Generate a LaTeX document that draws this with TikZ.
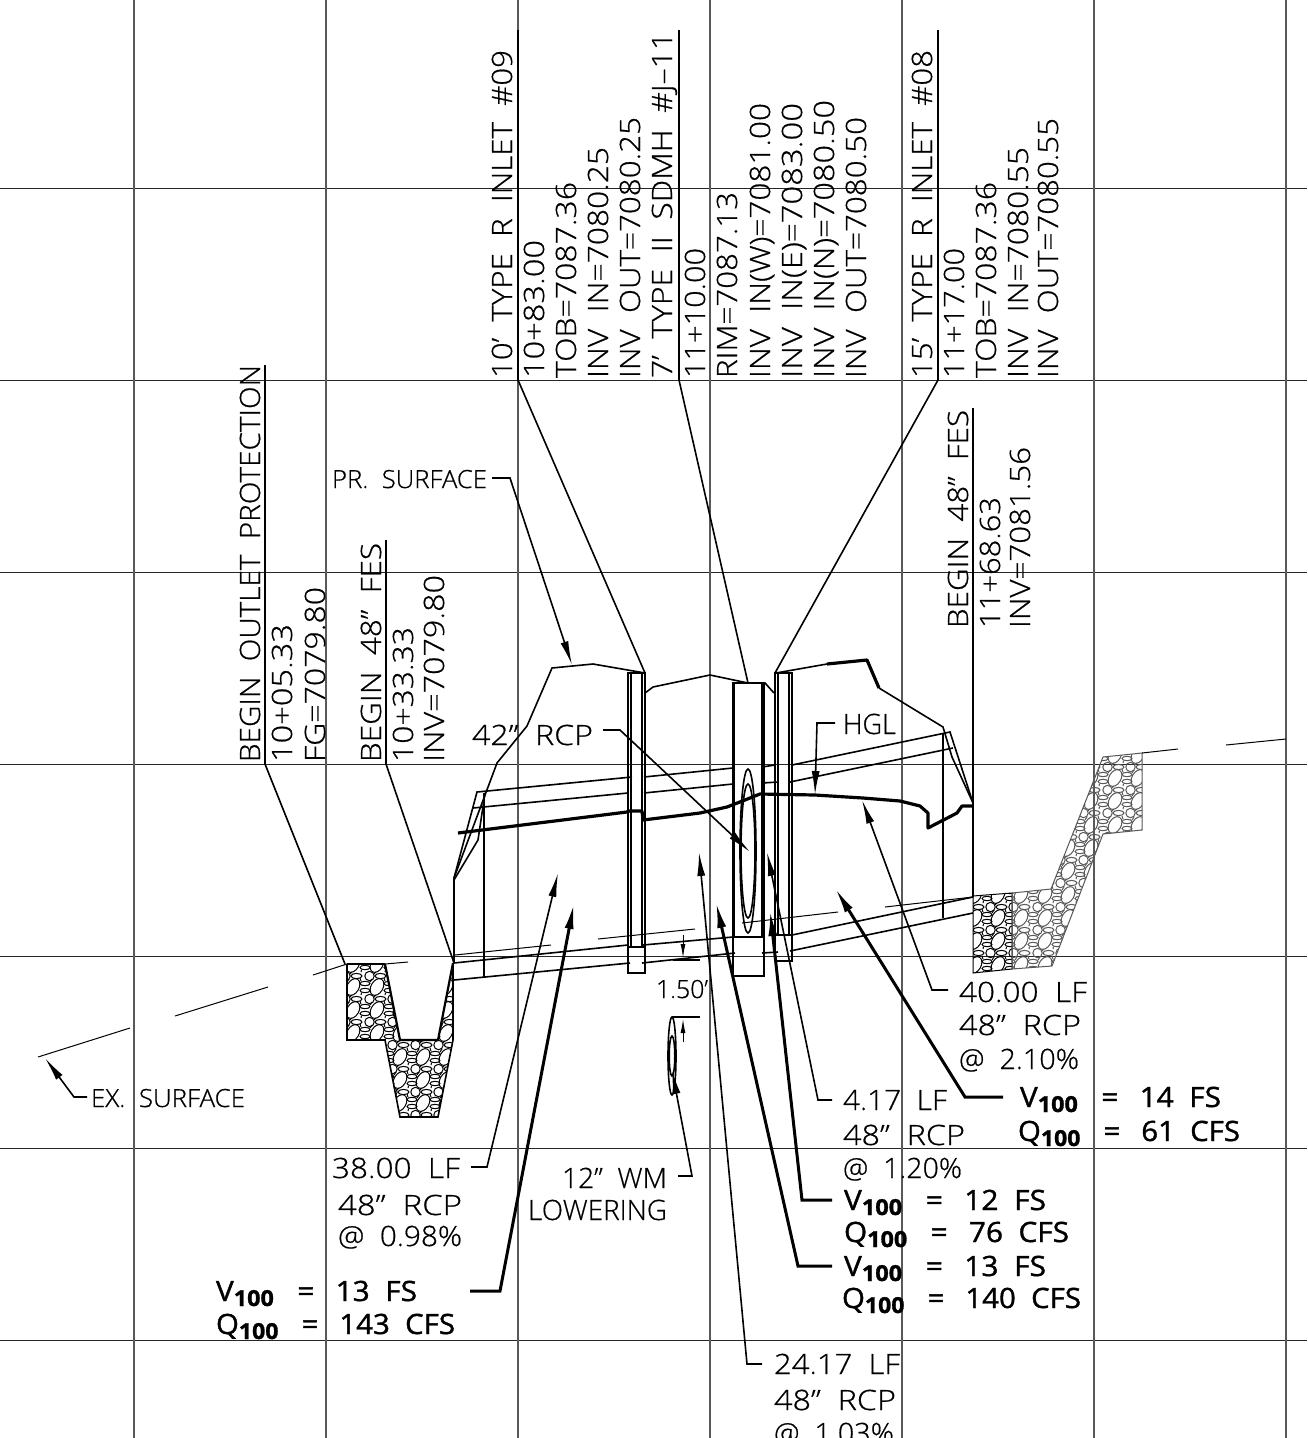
\documentclass[tikz,border=0pt]{standalone}
\usepackage{graphicx}
\usepackage{fontspec}
\setmainfont[WordSpace=2,FakeBold=0.6]{Open Sans Light}
\newfontfamily\thk[WordSpace=2,FakeBold=1.2]{Open Sans}
\usetikzlibrary{arrows.meta}
\newcommand{\fw}[2]{\resizebox{#1pt}{\height}{#2}}
\newcommand{\vsub}[1]{#1\raisebox{-5pt}{\fontsize{22}{22}\selectfont\bfseries 100}}
\tikzset{
 lbl/.style={inner sep=0pt,outer sep=0pt,anchor=base west,font=\fontsize{28}{28}\selectfont},
 lbs/.style={lbl,font=\fontsize{25}{25}\selectfont},
 lbk/.style={lbl,font=\thk\fontsize{28}{28}\selectfont},
 vt/.style={lbl,rotate=90},
 gridh/.style={line width=1pt,color=black!85},
 gridv/.style={line width=1.2pt,color=black!65},
 ln/.style={line width=1.6pt,color=black},
 thinln/.style={line width=1pt,color=black},
 hv/.style={line width=3.2pt,color=black,line join=round},
 lead/.style={line width=1.6pt,-{Latex[length=24pt,width=8pt]}},
 leadk/.style={line width=3pt,-{Latex[length=26pt,width=9pt]}},
 rock/.style={line width=1pt},
}
\newcommand{\rockcell}[2]{%
 \begin{scope}[shift={#1}]
 \draw[rock,#2,rotate=-30] (0,0) ellipse [x radius=6,y radius=9];
 \draw[rock,#2] (-7.5,12) circle [radius=4.7];
 \draw[rock,#2] (12,-3.5) ellipse [x radius=5,y radius=2.2];
 \draw[rock,#2] (12,3.5) ellipse [x radius=5,y radius=2.2];
 \draw[rock,#2] (3.5,12) ellipse [x radius=5.5,y radius=2.6];
 \draw[rock,#2] (-3,10) -- (-1,8) (8,8) -- (8.5,6) (7,-9) -- (8,-6) (17,-5) -- (19,-8);
 \end{scope}}
\newcommand{\rockfill}[3]{%
 \foreach \tx in {#1} \foreach \ty in {#2} {\rockcell{(\tx,\ty)}{#3}}}
\begin{document}
\begin{tikzpicture}[x=1pt,y=-1pt]
\useasboundingbox (0,0) rectangle (1307,1438);
\fill[white] (0,0) rectangle (1307,1438);
% grid
\foreach \y in {188,380,572,764,956,1148,1340} \draw[gridh] (0,\y) -- (1307,\y);
\foreach \x in {134,326,518,710,902,1094,1286} \draw[gridv] (\x,0) -- (\x,1438);
% vertical label blocks
\node[vt] (a1) at (512,378) {\fw{328}{10' TYPE R INLET \#09}};
\node[vt] (a2) at (544,378) {\fw{138}{10+83.00}};
\node[vt] (a3) at (576,378) {\fw{196}{TOB=7087.36}};
\node[vt] (a4) at (608,378) {\fw{231}{INV IN=7080.25}};
\node[vt] (a5) at (640,378) {\fw{261}{INV OUT=7080.25}};
\node[vt] (b1) at (672,378) {\fw{346}{7' TYPE II SDMH \#J–11}};
\node[vt] (b2) at (705,378) {\fw{130}{11+10.00}};
\node[vt] (b3) at (737,378) {\fw{186}{RIM=7087.13}};
\node[vt] (b4) at (770,378) {\fw{275}{INV IN(W)=7081.00}};
\node[vt] (b5) at (802,378) {\fw{275}{INV IN(E)=7083.00}};
\node[vt] (b6) at (834,378) {\fw{278}{INV IN(N)=7080.50}};
\node[vt] (b7) at (866,378) {\fw{261}{INV OUT=7080.50}};
\node[vt] (c1) at (932,378) {\fw{328}{15' TYPE R INLET \#08}};
\node[vt] (c2) at (964,378) {\fw{130}{11+17.00}};
\node[vt] (c3) at (996,378) {\fw{196}{TOB=7087.36}};
\node[vt] (c4) at (1028,378) {\fw{231}{INV IN=7080.55}};
\node[vt] (c5) at (1058,378) {\fw{260}{INV OUT=7080.55}};
\node[vt] (d1) at (968,628) {\fw{218}{BEGIN 48" FES}};
\node[vt] (d2) at (1000,628) {\fw{131}{11+68.63}};
\node[vt] (d3) at (1030,628) {\fw{181}{INV=7081.56}};
\node[vt] (e1) at (260,762) {\fw{397}{BEGIN OUTLET PROTECTION}};
\node[vt] (e2) at (292,762) {\fw{138}{10+05.33}};
\node[vt] (e3) at (325,762) {\fw{175}{FG=7079.80}};
\node[vt] (f1) at (381,762) {\fw{219}{BEGIN 48" FES}};
\node[vt] (f2) at (413,762) {\fw{135}{10+33.33}};
\node[vt] (f3) at (444,762) {\fw{187}{INV=7079.80}};
% horizontal labels
\node[lbs] (prs) at (332,488) {\fw{155}{PR. SURFACE}};
\node[lbl] (rcp42) at (472,745) {\fw{121}{42" RCP}};
\node[lbl] (hgl) at (843,734) {\fw{53}{HGL}};
\node[lbs] (exs) at (91,1107) {\fw{154}{EX. SURFACE}};
\node[lbl] (l1a) at (959,1002) {\fw{128}{40.00 LF}};
\node[lbl] (l1b) at (959,1035) {\fw{122}{48" RCP}};
\node[lbl] (l1c) at (959,1069) {\fw{120}{@ 2.10\%}};
\node[lbk] (v1a) at (1020,1107) {\fw{201}{\vsub{V}\hspace{22pt}=\hspace{20pt}14 FS}};
\node[lbk] (v1b) at (1018,1141) {\fw{222}{\vsub{Q}\hspace{22pt}=\hspace{20pt}61 CFS}};
\node[lbl] (l2a) at (843,1110) {\fw{104}{4.17 LF}};
\node[lbl] (l2b) at (843,1145) {\fw{122}{48" RCP}};
\node[lbl] (l2c) at (843,1178) {\fw{119}{@ 1.20\%}};
\node[lbk] (v2a) at (844,1210) {\fw{202}{\vsub{V}\hspace{22pt}=\hspace{20pt}12 FS}};
\node[lbk] (v2b) at (844,1242) {\fw{225}{\vsub{Q}\hspace{22pt}=\hspace{20pt}76 CFS}};
\node[lbk] (v3a) at (844,1276) {\fw{202}{\vsub{V}\hspace{22pt}=\hspace{20pt}13 FS}};
\node[lbk] (v3b) at (842,1308) {\fw{239}{\vsub{Q}\hspace{22pt}=\hspace{20pt}140 CFS}};
\node[lbl] (l3a) at (774,1374) {\fw{126}{24.17 LF}};
\node[lbl] (l3b) at (774,1410) {\fw{122}{48" RCP}};
\node[lbl] (l3c) at (774,1443) {\fw{120}{@ 1.03\%}};
\node[lbl] (l4a) at (332,1178) {\fw{128}{38.00 LF}};
\node[lbl] (l4b) at (338,1215) {\fw{124}{48" RCP}};
\node[lbl] (l4c) at (338,1246) {\fw{124}{@ 0.98\%}};
\node[lbk] (v4a) at (216,1301) {\fw{201}{\vsub{V}\hspace{22pt}=\hspace{20pt}13 FS}};
\node[lbk] (v4b) at (216,1334) {\fw{239}{\vsub{Q}\hspace{22pt}=\hspace{20pt}143 CFS}};
\node[lbl] (wm1) at (562,1188) {\fw{105}{12" WM}};
\node[lbl] (wm2) at (528,1220) {\fw{139}{LOWERING}};
\node[lbs] (dim) at (656,998) {\fw{52}{1.50'}};
% vertical leader lines with slanted legs
\coordinate (pa0) at (518,30); \coordinate (pa1) at (518,380); \coordinate (pa2) at (645,673);
\coordinate (pb0) at (679,30); \coordinate (pb1) at (679,380); \coordinate (pb2) at (748,683);
\coordinate (pc0) at (938,30); \coordinate (pc1) at (938,380); \coordinate (pc2) at (775,673);
\coordinate (pe0) at (265,365); \coordinate (pe1) at (265,764); \coordinate (pe2) at (345,964);
\coordinate (pf0) at (386,540); \coordinate (pf1) at (386,764); \coordinate (pf2) at (454,963);
\coordinate (pd0) at (973,408); \coordinate (pd1) at (973,803);
\draw[ln] (pa0) -- (pa1) -- (pa2);
\draw[ln] (pb0) -- (pb1) -- (pb2);
\draw[ln] (pc0) -- (pc1) -- (pc2);
\draw[ln] (pe0) -- (pe1) -- (pe2);
\draw[ln] (pf0) -- (pf1) -- (pf2);
\draw[ln] (pd0) -- (pd1);
% riprap outlet
\begin{scope}
 \clip (347,964) -- (385,964) -- (400,1040) -- (438,1040) -- (453,963) -- (453,1040) -- (438,1117) -- (400,1117) -- (385,1040) -- (347,1040) -- cycle;
 \rockfill{330,353,377,400,423,446,470}{964,987,1010,1033,1057,1080,1103,1126}{black}
\end{scope}
\draw[ln] (347,964) -- (347,1040) -- (385,1040) -- (400,1117) -- (438,1117) -- (453,1040) -- (453,963);
\draw[line width=2.2pt] (385,964) -- (400,1040) -- (438,1040) -- (453,963);
\draw[ln] (347,964) -- (385,964);
% riprap right, dark
\begin{scope}
 \clip (973,896) -- (1012,893) -- (1012,969) -- (973,973) -- cycle;
 \rockfill{952,975,998,1021}{871,895,918,941,965,988}{black}
\end{scope}
\draw[thinln] (973,896) -- (1012,893) -- (1012,969) -- (973,973) -- cycle;
% riprap right, grey
\begin{scope}
 \clip (1012,893) -- (1051,889) -- (1103,757) -- (1142,753) -- (1142,830) -- (1103,834) -- (1052,966) -- (1012,969) -- cycle;
 \rockfill{998,1021,1045,1068,1091,1115,1138,1161}{755,778,801,825,848,871,895,918,941,965,988}{black!65}
\end{scope}
\draw[thinln,color=black!65] (1012,893) -- (1051,889) -- (1103,757) -- (1142,753) -- (1142,830) -- (1103,834) -- (1052,966) -- (1012,969) -- cycle;
% existing ground
\draw[thinln] (38,1057) -- (130,1028);
\draw[thinln] (175,1016) -- (268,987);
\draw[thinln] (313,975) -- (347,964);
\draw[thinln] (385,964) -- (408,962);
\draw[thinln] (1142,753) -- (1178,749);
\draw[thinln] (1226,745) -- (1286,739);
\draw[thinln] (455,955) -- (551,945);
\draw[thinln] (598,939) -- (695,929);
\draw[thinln] (742,923) -- (838,912);
\draw[thinln] (885,907) -- (973,897);
% proposed surface
\draw[ln] (454,878) -- (497,763) -- (527,726) -- (552,668) -- (593,664) -- (645,673);
\draw[ln] (645,693) -- (653,687) -- (710,675) -- (748,683) -- (765,683) -- (774,693);
\draw[ln] (776,673) -- (827,664);
\draw[hv] (827,664) -- (867,660) -- (879,688);
\draw[ln] (879,688) -- (943,727) -- (952,757) -- (973,803);
% pipe run: left section
\draw[line width=2.2pt] (454,878) -- (454,963);
\draw[ln] (454,878) -- (477,792) -- (632,777);
\draw[ln] (473,808) -- (628,793);
\draw[ln] (454,880) -- (478,840) -- (485,793);
\draw[ln] (484,793) -- (484,977);
\draw[ln] (454,963) -- (628,945);
\draw[ln] (454,980) -- (630,963);
% middle section
\draw[ln] (644,777) -- (733,768);
\draw[ln] (644,793) -- (733,784);
\draw[ln] (643,945) -- (733,937);
\draw[ln] (642,963) -- (735,953);
% stubs
\draw[ln] (762,767) -- (775,765);
\draw[ln] (762,783) -- (778,782);
\draw[ln] (762,953) -- (778,952);
% right section
\draw[ln] (792,765) -- (950,732) -- (973,803);
\draw[ln] (790,782) -- (953,748);
\draw[ln] (943,733) -- (943,918);
\draw[ln] (792,935) -- (973,897);
\draw[ln] (790,951) -- (973,913);
\draw[line width=2.2pt] (973,803) -- (973,897);
% inlet 09
\draw[ln] (628,673) rectangle (645,973);
\draw[ln] (631,673) -- (631,947) (642,673) -- (642,947) (628,947) -- (645,947);
% manhole
\draw[ln] (733,683) rectangle (764,976);
\draw[line width=2.8pt] (734,683) -- (734,937);
\draw[ln] (762,683) -- (762,937) (733,937) -- (764,937);
% inlet 08
\draw[ln] (775,673) rectangle (792,961);
\draw[ln] (778,673) -- (778,935) (789,673) -- (789,935) (775,935) -- (792,935);
% pipe ellipses
\coordinate (pe) at (748,851);
\draw[ln] (pe) ellipse [x radius=8,y radius=82];
\draw[ln] (pe) ellipse [x radius=7,y radius=67];
% HGL
\draw[hv] (458,833) -- (627,812) -- (629,811) -- (642,811) -- (643,820) -- (700,813) -- (727,807) -- (745,800) -- (760,794) -- (815,795) -- (863,798) -- (900,801) -- (920,806) -- (928,813) -- (928,828) -- (957,813) -- (962,806) -- (973,806);
% dimension 1.50'
\coordinate (dt1) at (683,935); \coordinate (dt2) at (683,958);
\draw[thinln,-{Latex[length=14pt,width=5pt]}] (dt1) -- (dt2);
\draw[ln] (673,960) -- (700,960);
\coordinate (du1) at (683,1042); \coordinate (du2) at (683,1019);
\draw[thinln,-{Latex[length=14pt,width=5pt]}] (du1) -- (du2);
\draw[ln] (672,1017) -- (700,1017);
% water main
\coordinate (wm) at (672,1056);
\draw[ln] (wm) ellipse [x radius=4,y radius=39];
\draw[ln] (wm) ellipse [x radius=2.8,y radius=20];
% leaders
\coordinate (q1) at (492,478); \coordinate (q2) at (510,478); \coordinate (q3) at (572,665);
\draw[lead] (q1) -- (q2) -- (q3);
\coordinate (r1) at (603,730); \coordinate (r2) at (620,730); \coordinate (r3) at (750,852);
\draw[lead] (r1) -- (r2) -- (r3);
\coordinate (s1) at (835,723); \coordinate (s2) at (817,723); \coordinate (s3) at (815,795);
\draw[lead] (s1) -- (s2) -- (s3);
\coordinate (u1) at (87,1097); \coordinate (u2) at (74,1097); \coordinate (u3) at (45,1058);
\draw[lead] (u1) -- (u2) -- (u3);
\coordinate (w1) at (948,990); \coordinate (w2) at (932,990); \coordinate (w3) at (862,800);
\draw[lead] (w1) -- (w2) -- (w3);
\coordinate (k1) at (1003,1097); \coordinate (k2) at (965,1097); \coordinate (k3) at (835,888);
\draw[leadk] (k1) -- (k2) -- (k3);
\coordinate (m1) at (832,1100); \coordinate (m2) at (818,1100); \coordinate (m3) at (767,852);
\draw[lead] (m1) -- (m2) -- (m3);
\coordinate (n1) at (832,1200); \coordinate (n2) at (802,1200); \coordinate (n3) at (770,910);
\draw[leadk] (n1) -- (n2) -- (n3);
\coordinate (o1) at (832,1266); \coordinate (o2) at (798,1266); \coordinate (o3) at (716,902);
\draw[leadk] (o1) -- (o2) -- (o3);
\coordinate (h1) at (762,1364); \coordinate (h2) at (747,1364); \coordinate (h3) at (699,852);
\draw[lead] (h1) -- (h2) -- (h3);
\coordinate (i1) at (471,1167); \coordinate (i2) at (487,1167); \coordinate (i3) at (558,873);
\draw[lead] (i1) -- (i2) -- (i3);
\coordinate (j1) at (470,1291); \coordinate (j2) at (500,1291); \coordinate (j3) at (574,903);
\draw[leadk] (j1) -- (j2) -- (j3);
\coordinate (x1) at (678,1176); \coordinate (x2) at (692,1176); \coordinate (x3) at (672,1070);
\draw[lead] (x1) -- (x2) -- (x3);
\end{tikzpicture}
\end{document}
